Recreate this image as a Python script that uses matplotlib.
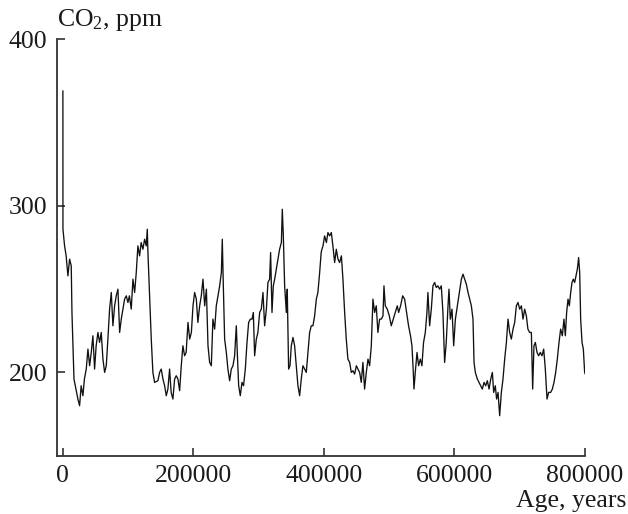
import matplotlib
matplotlib.use("Agg")
import matplotlib.pyplot as plt
import numpy as np

plt.rcParams['font.family'] = ['Liberation Serif', 'DejaVu Serif']
plt.rcParams['mathtext.fontset'] = 'custom'
plt.rcParams['mathtext.rm'] = 'Liberation Serif'
plt.rcParams['mathtext.default'] = 'regular'

# Age (kyr BP) and CO2 (ppm)
age_kyr = [0, 0.1, 2.6, 5, 7.7, 10.3, 12.8, 13.9, 17, 19, 23, 25.6, 28, 30.7, 33, 35.8, 38.4, 41, 43.5, 46,
           48.6, 51, 53.7, 56.3, 58.8, 61.4, 64, 66.5, 69, 71.6, 74.2, 76.7, 79.3, 81.8, 84.4, 87, 89.5, 92,
           94.6, 97.2, 99.7, 102, 104.8, 107.4, 110, 112.5, 115, 117.6, 120, 122.7, 125.3, 127.8, 129.4,
           130.4, 133, 135.5, 138, 140.6, 145.7, 148.3, 150.8, 153.4, 156, 158.5, 161, 163.6, 166, 168.7,
           171.3, 173.8, 176.4, 179, 181.5, 184, 186.6, 189, 191.8, 194.4, 197, 199.5, 202, 204.6, 207,
           209.7, 212.2, 214.8, 217.4, 220, 222.5, 225, 227.6, 230, 232.7, 235.2, 237.8, 240.4, 243, 244.4,
           246, 248, 250.6, 253, 255.7, 258.2, 260.8, 263.3, 265.9, 267.4, 269.5, 272, 274.6, 277, 279.7,
           282.3, 284.8, 287.4, 290, 292, 294, 296.6, 299, 301.7, 304.2, 306.8, 309.3, 312, 314.4, 317,
           318.5, 320.6, 322.6, 324.7, 327.2, 329.8, 332.3, 335, 336.4, 338, 340, 342.6, 344, 346.1, 348.2,
           350.2, 352.8, 355.3, 357.9, 360.4, 363, 365.5, 368, 370.7, 373.2, 375.8, 378.3, 380.9, 383.4,
           386, 388.6, 391, 393.7, 396, 397.2, 398.8, 401.3, 404, 406.4, 409, 411.6, 414, 416.7, 419.2,
           421.8, 424.3, 427, 429.4, 432, 434.5, 437, 439.7, 442.2, 444.8, 447.3, 450, 452.4, 455, 457.5,
           460, 462.6, 465.2, 467.8, 470.3, 472.9, 475.4, 478, 480.5, 483, 485.6, 488.2, 490.8, 492.3,
           494.3, 497.4, 500.5, 503.5, 506.6, 509.7, 512.7, 514.8, 517.8, 521, 524, 527, 530, 533, 535.2,
           537.3, 538.3, 540.3, 543, 545.4, 548, 550.5, 553, 555.7, 558.2, 559.7, 562.3, 564.9, 567.4, 570,
           572.5, 575, 577.6, 580.2, 582.7, 585.3, 587.8, 590.5, 592, 594, 596.6, 599.2, 601.8, 604.8,
           607.9, 611, 613.5, 616, 618.6, 621.2, 623.7, 626.3, 628.8, 630.4, 632.4, 635.5, 638, 640.6,
           643.1, 645.7, 648.3, 650.8, 653.4, 656, 658.5, 660.5, 663, 665, 667.2, 669.7, 672.3, 674.8,
           677.4, 680, 682.5, 685, 687.6, 690.2, 692.7, 695.3, 697.8, 700.4, 703, 705.5, 708, 710.6, 713,
           715.7, 718.3, 720.3, 722.3, 724.4, 727, 729.5, 732, 734.6, 737.2, 739.7, 742.3, 744.8, 747.9,
           750.5, 753, 755.6, 758.1, 760.7, 763.2, 765.8, 768.3, 770.4, 772.4, 774.5, 776.5, 778.6, 780.6,
           782.6, 784.7, 786.7, 788.8, 790.8, 792.4, 793.9, 796, 798, 800, 801]
co2_ppm = [369, 286, 276, 270, 258, 268, 264, 236, 196, 192, 184, 180, 192, 186, 196, 202, 214, 204, 212, 222,
           202, 216, 224, 218, 224, 208, 200, 204, 220, 238, 248, 228, 240, 246, 250, 224, 232, 238,
           244, 246, 242, 246, 238, 256, 248, 260, 276, 270, 278, 274, 280, 276, 286,
           272, 246, 220, 200, 194, 195, 200, 202, 196, 192, 186, 190, 202, 188, 184,
           196, 198, 196, 189, 204, 216, 210, 212, 230, 220, 224, 240, 248, 244, 230,
           240, 246, 256, 240, 250, 216, 206, 204, 232, 226, 240, 246, 252, 260, 280,
           252, 220, 212, 202, 195, 202, 204, 210, 228, 212, 192, 186, 194, 192, 202,
           218, 230, 232, 232, 236, 210, 220, 224, 236, 238, 248, 228, 238, 254, 256,
           272, 236, 252, 256, 262, 268, 274, 278, 298, 282, 252, 236, 250, 202, 204,
           216, 221, 216, 204, 192, 186, 196, 204, 202, 200, 212, 224, 228, 228,
           234, 244, 248, 260, 272, 274, 276, 282, 278, 284, 282, 284, 276, 266, 274,
           268, 266, 270, 256, 236, 220, 208, 206, 200, 201, 199, 204, 202, 200, 194,
           206, 190, 200, 208, 204, 216, 244, 236, 240, 224, 232, 232, 234, 252,
           240, 238, 234, 228, 232, 236, 240, 236, 240, 246, 244, 236, 228, 222, 216,
           200, 190, 200, 212, 204, 208, 204, 218, 224, 236, 248, 228, 238, 252, 254,
           251, 252, 250, 252, 236, 206, 218, 240, 250, 232, 238, 216, 232, 240,
           248, 256, 259, 256, 253, 248, 244, 240, 232, 206, 200, 196, 194, 192,
           190, 194, 192, 195, 190, 196, 200, 188, 192, 184, 188, 174, 188, 196,
           208, 218, 232, 224, 220, 226, 230, 240, 242, 238, 240, 232, 238, 234, 226,
           224, 224, 190, 216, 218, 212, 210, 212, 210, 214, 202, 184, 188, 188,
           190, 194, 200, 208, 218, 226, 222, 232, 222, 236, 244, 240, 248, 254,
           256, 254, 258, 262, 269, 260, 232, 218, 214, 200, 199]

x_ticks = [0, 200000, 400000, 600000, 800000]
y_ticks = [200, 300, 400]

fig = plt.figure(figsize=(6.28, 5.14), dpi=100)
ax = fig.add_axes([0.0908, 0.1135, 0.8412, 0.8098])

ax.plot(np.array(age_kyr) * 1000, co2_ppm, color='#111111', lw=0.95)

ax.set_xlim(-9000, 801000)
ax.set_ylim(150, 400)
ax.set_xticks(x_ticks)
ax.set_xticklabels([str(v) for v in x_ticks])
ax.set_yticks(y_ticks)

for s in ['top', 'right']:
    ax.spines[s].set_visible(False)
for s in ['left', 'bottom']:
    ax.spines[s].set_color('#333333')
    ax.spines[s].set_linewidth(1.3)

ax.tick_params(direction='in', length=6, width=1.2, color='#333333',
               labelsize=18.5, pad=6.5, labelcolor='#1a1a1a')
ax.tick_params(axis='y', pad=7)

fig.text(57 / 628, 1 - 26 / 514, r'CO$_2$, ppm', fontsize=18.5, ha='left',
         va='baseline', color='#1a1a1a')
fig.text(626 / 628, 1 - 507 / 514, 'Age, years', fontsize=18.5, ha='right',
         va='baseline', color='#1a1a1a')

fig.savefig('out.png', dpi=100)
